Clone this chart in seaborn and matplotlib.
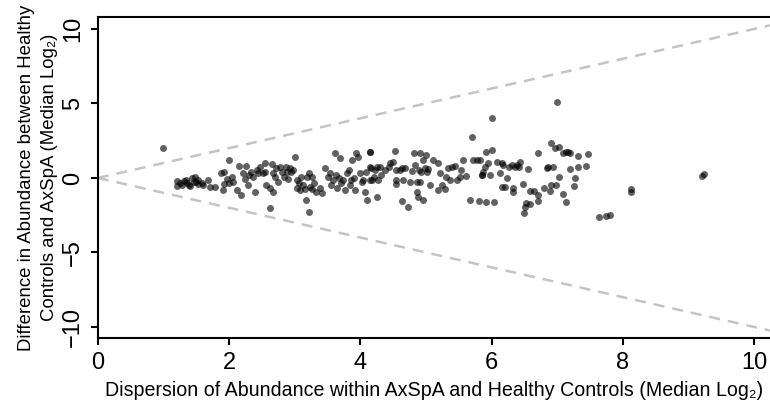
import numpy as np
import pandas as pd
import matplotlib
matplotlib.use("Agg")
import matplotlib.pyplot as plt
import seaborn as sns

# Dispersion (x) and difference (y) per protein
disp_x = [
    1.00, 2.00, 1.20, 1.20, 1.28, 1.34, 1.36, 1.41, 1.44, 1.48, 1.49, 1.53, 1.58, 1.60,
    1.68, 1.71, 1.78, 1.25, 1.31, 1.39, 1.46, 1.52,
    1.87, 1.91, 1.92, 1.93, 1.97, 2.00, 2.04, 2.06, 2.12, 2.15, 2.18, 2.21, 2.24, 2.26,
    2.29, 2.31, 2.34, 2.37, 2.39, 2.42, 2.44, 2.47,
    2.55, 2.55, 2.65, 2.67, 2.70, 2.72, 2.75, 2.78, 2.80, 2.84, 2.87, 2.88, 2.90, 2.93,
    2.95, 2.98, 3.00, 3.03, 3.04, 3.07, 3.08, 3.10, 3.13, 3.16, 3.17, 3.18, 3.21, 3.22,
    3.23, 3.26, 3.27, 3.29, 3.33, 3.38, 3.41, 3.46, 3.51, 3.54, 3.55, 3.58, 3.61, 3.63,
    3.65, 3.68, 3.69, 3.71, 3.74, 3.76, 3.79, 3.82, 3.84, 3.85, 3.88, 3.90, 3.92, 3.94,
    3.97, 3.99, 4.02, 4.04, 4.07, 4.09, 4.10, 4.14, 4.15, 4.16, 2.62, 2.57, 2.62, 2.67,
    2.52,
    4.15, 4.15, 4.17, 4.20, 4.22, 4.25, 4.25, 4.27, 4.30, 4.32, 4.37, 4.43, 4.45, 4.50,
    4.53, 4.55, 4.55, 4.55, 4.60, 4.63, 4.65, 4.63, 4.68, 4.73, 4.75, 4.78, 4.81, 4.83,
    4.86, 4.86, 4.88, 4.90, 4.91, 4.91, 4.93, 4.95, 4.96, 4.98, 5.00, 5.01, 5.03, 5.06,
    5.11, 5.19, 5.19, 5.21, 5.24, 5.29, 5.31, 5.34, 5.37, 5.39, 5.44, 5.47, 5.52, 5.54,
    5.57, 5.61, 5.67, 5.70, 5.72, 5.77, 5.81, 5.85,
    5.82, 5.85, 5.87, 5.90, 5.92, 5.95, 5.97, 6.00, 6.00, 5.92, 6.04, 6.08, 6.12, 6.15,
    6.15, 6.18, 6.20, 6.23, 6.26, 6.31, 6.32, 6.33, 6.36, 6.38, 6.41, 6.43, 6.48, 6.49,
    6.51, 6.52, 6.55, 6.59, 6.59, 6.65, 6.70, 6.70, 6.71, 6.79, 6.84, 6.86, 6.89, 6.90,
    6.90, 6.93, 6.97, 6.98, 7.00, 7.02, 7.03, 7.09, 7.09, 7.13, 7.14, 7.17, 7.19, 7.20,
    7.25, 7.27, 7.32, 7.32, 7.44, 7.47,
    8.12, 8.13, 7.64, 7.74, 7.81, 9.20, 9.23,
]
diff_y = [
    2.00, 1.20, -0.22, -0.54, -0.47, -0.13, -0.36, -0.54, -0.02, 0.09, -0.25, -0.40, -0.32, -0.47,
    -0.13, -0.58, -0.62, -0.35, -0.20, -0.45, -0.30, -0.15,
    0.36, -0.81, -0.40, 0.42, -0.09, -0.36, 0.09, -0.25, -0.81, 0.81, -1.14, 0.32, -0.09, 0.81,
    -0.47, 0.20, 0.42, 0.09, -0.92, 0.54, 0.32, 0.76,
    0.98, 0.43, 0.92, 0.31, 0.09, 0.65, -0.25, 0.76, 0.43, 0.09, 0.76, 0.43, -0.09, 0.65,
    0.43, 0.54, 1.43, -0.13, -0.69, -0.36, -0.81, 0.09, -0.47, -0.76, -1.48, 0.09, -2.26, 0.31,
    -0.63, 0.09, -0.76, -0.36, -0.92, -0.69, -0.98, 0.65, 0.09, 0.31, -0.47, -0.13, 1.66, 0.20,
    -0.69, -0.02, 1.32, -0.36, -0.13, -0.81, 0.31, 0.54, -0.47, -0.13, 1.21, -0.02, -0.81, 1.66,
    1.43, 0.31, -0.25, -0.13, -0.92, 0.43, -1.48, -0.13, 1.77, 0.65, -2.04, -0.47, -0.69, -0.92,
    0.31,
    1.77, 0.76, -0.13, 0.09, 0.54, 0.76, -1.25, -0.13, 0.76, 0.20, 0.54, 0.76, 0.98, 1.10,
    1.81, 0.54, -0.13, -0.40, 0.54, 0.65, -0.13, -1.54, 0.65, -1.92, -0.25, 0.49, 1.70, 0.87,
    -0.25, -0.92, -1.25, 0.54, 1.66, -0.25, 0.43, -1.48, 1.21, 0.65, 1.54, 0.43, 0.58, -0.47,
    1.21, 0.98, -0.81, 0.31, -0.47, -0.76, 0.09, 0.65, -0.13, 0.76, 0.81, -0.13, 0.09, 0.54,
    1.21, 0.13, -1.48, 2.77, 1.21, 1.21, -1.52, 0.20,
    1.21, 0.20, 0.43, 0.76, 1.77, 0.98, 0.20, 1.88, 4.05, -1.59, -1.59, 1.10, 0.31, 0.98,
    -0.58, 0.87, -0.58, -0.02, 0.76, 0.87, -0.69, -0.96, 0.76, 0.87, 0.76, 1.10, -0.43, -2.37,
    -1.92, -1.70, 0.60, -1.77, -0.85, -0.85, -1.14, -1.54, 1.66, -0.65, 0.69, 0.76, -0.87, 2.33,
    -0.47, 0.76, 1.99, -0.47, 5.12, 2.10, 0.09, 1.66, -1.10, 1.77, -1.59, 1.72, 1.66, 0.60,
    -0.51, -0.02, 0.76, 1.50, 0.83, 1.59,
    -0.76, -0.92, -2.60, -2.55, -2.51, 0.13, 0.27,
]

x_ticks = [0, 2, 4, 6, 8, 10]
y_ticks = [-10, -5, 0, 5, 10]

df = pd.DataFrame({"dispersion": disp_x, "difference": diff_y})

sns.set_style("ticks")
plt.rcParams["font.family"] = ["Liberation Sans", "DejaVu Sans"]
plt.rcParams["axes.labelcolor"] = "black"
plt.rcParams["text.color"] = "black"

fig = plt.figure(figsize=(7.7, 4.0), dpi=100)
ax = fig.add_axes([0.127, 0.155, 0.873, 0.8025])

# reference lines y = x and y = -x
ax.axline((0, 0), slope=1, color="#c4c4c4", lw=1.8, dashes=(4.4, 3.2), zorder=1)
ax.axline((0, 0), slope=-1, color="#c4c4c4", lw=1.8, dashes=(4.4, 3.2), zorder=1)

sns.scatterplot(data=df, x="dispersion", y="difference", ax=ax,
                color="black", alpha=0.62, s=25, linewidth=0, zorder=2)

ax.set_xlim(0, 10.24)
ax.set_ylim(-10.74, 10.8)
ax.set_xticks(x_ticks)
ax.set_yticks(y_ticks)
ax.set_yticklabels([str(t).replace("-", "\u2212") for t in y_ticks],
                   rotation=90, va="center")

for side in ["left", "bottom", "top"]:
    ax.spines[side].set_linewidth(1.5)
    ax.spines[side].set_color("black")
ax.spines["right"].set_visible(False)
ax.tick_params(axis="both", length=5, width=1.5, labelsize=17, pad=5,
               colors="black", labelcolor="black")

ax.set_xlabel("Dispersion of Abundance within AxSpA and Healthy Controls (Median Log\u2082)",
              fontsize=14.15, labelpad=5, color="black")
ax.set_ylabel("Difference in Abundance between Healthy\nControls and AxSpA (Median Log\u2082)",
              fontsize=13.4, labelpad=3, linespacing=1.45, color="black")

fig.savefig("out.png", dpi=100)
